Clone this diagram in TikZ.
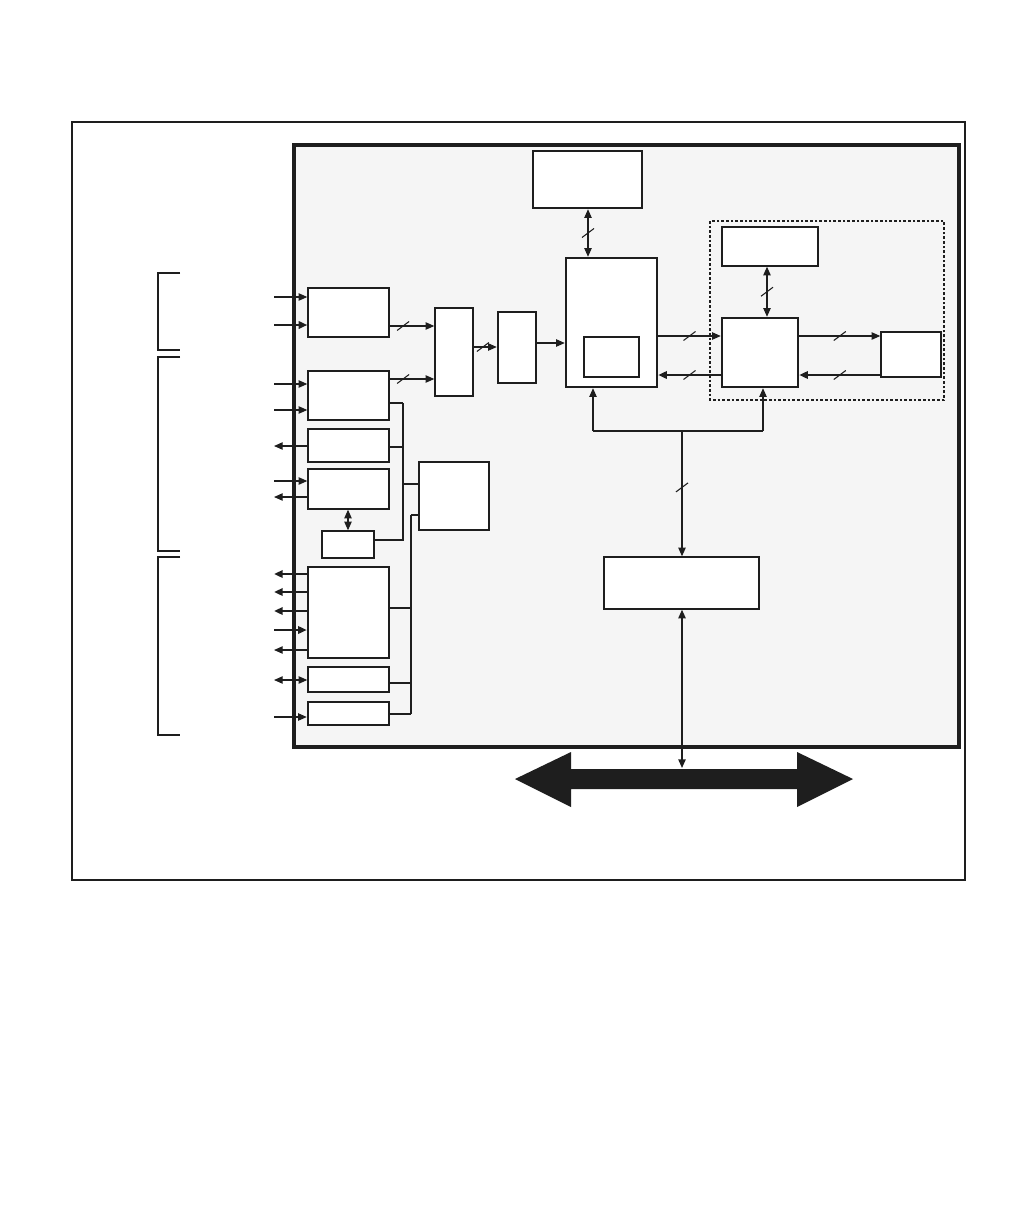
\documentclass[tikz,border=0pt]{standalone}
\usetikzlibrary{arrows.meta,fit}
\definecolor{panel}{RGB}{245,245,245}
\definecolor{ink}{RGB}{30,30,30}
\begin{document}
\begin{tikzpicture}[x=0.75pt,y=-0.75pt,
  box/.style={draw=ink,fill=white,line width=1pt,inner sep=0pt,fit={#1}},
  thickbox/.style={draw=ink,fill=white,line width=1.8pt,inner sep=0pt,fit={#1}},
  ln/.style={draw=ink,line width=0.9pt},
  tk/.style={draw=ink,line width=1.7pt},
  tip/.tip={Triangle[length=6.5pt,width=5.5pt]},
  arr/.style={ln,-tip},
  rarr/.style={ln,tip-},
  darr/.style={ln,tip-tip},
  tarr/.style={tk,-tip},
  trarr/.style={tk,tip-},
  slashpic/.pic={\draw[-,solid,ink,line width=0.8pt] (-6,4.5) -- (6,-4.5);}
]
\useasboundingbox (0,0) rectangle (1008,1224);
% frames
\draw[ink,line width=0.9pt] (72,122) rectangle (965,880);
\draw[ink,fill=panel,line width=2.4pt] (294,145) rectangle (959,747);
% brackets
\draw[ink,line width=0.9pt] (180,273) -| (158,350) -- (180,350);
\draw[ink,line width=0.9pt] (180,357) -| (158,551) -- (180,551);
\draw[ink,line width=0.9pt] (180,557) -| (158,735) -- (180,735);
% dotted group
\draw[ink,line width=1.4pt,dash pattern=on 2pt off 1.5pt] (710,221) rectangle (944,400);
% boxes
\node[box={(308,288) (389,337)}] (A) {};
\node[box={(308,371) (389,420)}] (B) {};
\node[thickbox={(308,429) (389,462)}] (C) {};
\node[box={(308,469) (389,509)}] (D) {};
\node[box={(322,531) (374,558)}] (E) {};
\node[thickbox={(419,462) (489,530)}] (F) {};
\node[thickbox={(308,567) (389,658)}] (G) {};
\node[box={(308,667) (389,692)}] (H) {};
\node[thickbox={(308,702) (389,725)}] (I) {};
\node[box={(435,308) (473,396)}] (J) {};
\node[thickbox={(498,312) (536,383)}] (K) {};
\node[thickbox={(566,258) (657,387)}] (L) {};
\node[box={(584,337) (639,377)}] (M) {};
\node[thickbox={(533,151) (642,208)}] (N) {};
\node[box={(722,227) (818,266)}] (O) {};
\node[thickbox={(722,318) (798,387)}] (P) {};
\node[box={(881,332) (941,377)}] (Q) {};
\node[box={(604,557) (759,609)}] (R) {};
% left inputs/outputs
\coordinate (ia1) at (274,297); \coordinate (ia2) at (274,325);
\coordinate (ib1) at (274,384); \coordinate (ib2) at (274,410);
\coordinate (ic1) at (274,446);
\coordinate (id1) at (274,481); \coordinate (id2) at (274,497);
\coordinate (ig1) at (274,574); \coordinate (ig2) at (274,592);
\coordinate (ig3) at (274,611); \coordinate (ig4) at (274,630);
\coordinate (ig5) at (274,650);
\coordinate (ih1) at (274,680);
\coordinate (ii1) at (274,717);
\draw[arr] (ia1) -- (ia1 -| A.west);
\draw[tarr] (ia2) -- (ia2 -| A.west);
\draw[arr] (ib1) -- (ib1 -| B.west);
\draw[arr] (ib2) -- (ib2 -| B.west);
\draw[rarr] (ic1) -- (ic1 -| C.west);
\draw[arr] (id1) -- (id1 -| D.west);
\draw[rarr] (id2) -- (id2 -| D.west);
\draw[trarr] (ig1) -- (ig1 -| G.west);
\draw[trarr] (ig2) -- (ig2 -| G.west);
\draw[trarr] (ig3) -- (ig3 -| G.west);
\draw[tarr] (ig4) -- (ig4 -| G.west);
\draw[rarr] (ig5) -- (ig5 -| G.west);
\draw[darr] (ih1) -- (ih1 -| H.west);
\draw[arr] (ii1) -- (ii1 -| I.west);
\draw[darr] (D.south -| 348,0) -- (E.north -| 348,0);
% bus 1
\coordinate (b1t) at (403,403); \coordinate (b1b) at (403,540);
\coordinate (j1) at (403,484); \coordinate (jc) at (403,447);
\draw[tk] (b1t -| B.east) -- (b1t);
\draw[ln] (b1t) -- (b1b) -- (b1b -| E.east);
\draw[ln] (jc -| C.east) -- (jc);
\draw[ln] (j1) -- (j1 -| F.west);
% bus 2
\coordinate (b2t) at (411,515); \coordinate (b2b) at (411,714);
\coordinate (g2) at (411,608); \coordinate (h2) at (411,683);
\draw[tk] (b2t -| F.west) -- (b2t);
\draw[ln] (b2t) -- (b2b);
\draw[tk] (b2b) -- (b2b -| I.east);
\draw[ln] (g2 -| G.east) -- (g2);
\draw[ln] (h2 -| H.east) -- (h2);
% data path
\coordinate (aj) at (389,326); \coordinate (bj) at (389,379);
\coordinate (jk) at (473,347); \coordinate (kl) at (536,343);
\draw[arr] (aj -| A.east) -- pic[pos=0.3]{slashpic} (aj -| J.west);
\draw[arr] (bj -| B.east) -- pic[pos=0.3]{slashpic} (bj -| J.west);
\draw[arr] (jk -| J.east) -- pic[pos=0.4]{slashpic} (jk -| K.west);
\draw[arr] (kl -| K.east) -- (kl -| L.west);
\coordinate (nl) at (588,0);
\draw[darr] (N.south -| nl) -- pic[pos=0.5]{slashpic} (L.north -| nl);
\coordinate (op) at (767,0);
\draw[darr] (O.south -| op) -- pic[pos=0.5]{slashpic} (P.north -| op);
\coordinate (hi) at (0,336); \coordinate (lo) at (0,375);
\draw[arr] (hi -| L.east) -- pic[pos=0.5]{slashpic} (hi -| P.west);
\draw[trarr] (lo -| L.east) -- pic[pos=0.5]{slashpic} (lo -| P.west);
\draw[arr] (hi -| P.east) -- pic[pos=0.5]{slashpic} (hi -| Q.west);
\draw[trarr] (lo -| P.east) -- pic[pos=0.5]{slashpic} (lo -| Q.west);
% lower bus
\coordinate (bl) at (593,431); \coordinate (br) at (763,431);
\coordinate (bm) at (682,431);
\draw[ln] (bl) -- (br);
\draw[arr] (bl) -- (bl |- L.south);
\draw[arr] (br) -- (br |- P.south);
\draw[arr] (bm) -- pic[pos=0.45]{slashpic} (bm |- R.north);
% big bus arrow
\coordinate (busTop) at (682,768);
\fill[ink] (515,779) -- (571,752) -- (571,769) -- (797,769) -- (797,752)
  -- (853,779) -- (797,807) -- (797,789) -- (571,789) -- (571,807) -- cycle;
\draw[darr,line width=1.1pt] (R.south -| bm) -- (busTop);
\end{tikzpicture}
\end{document}
